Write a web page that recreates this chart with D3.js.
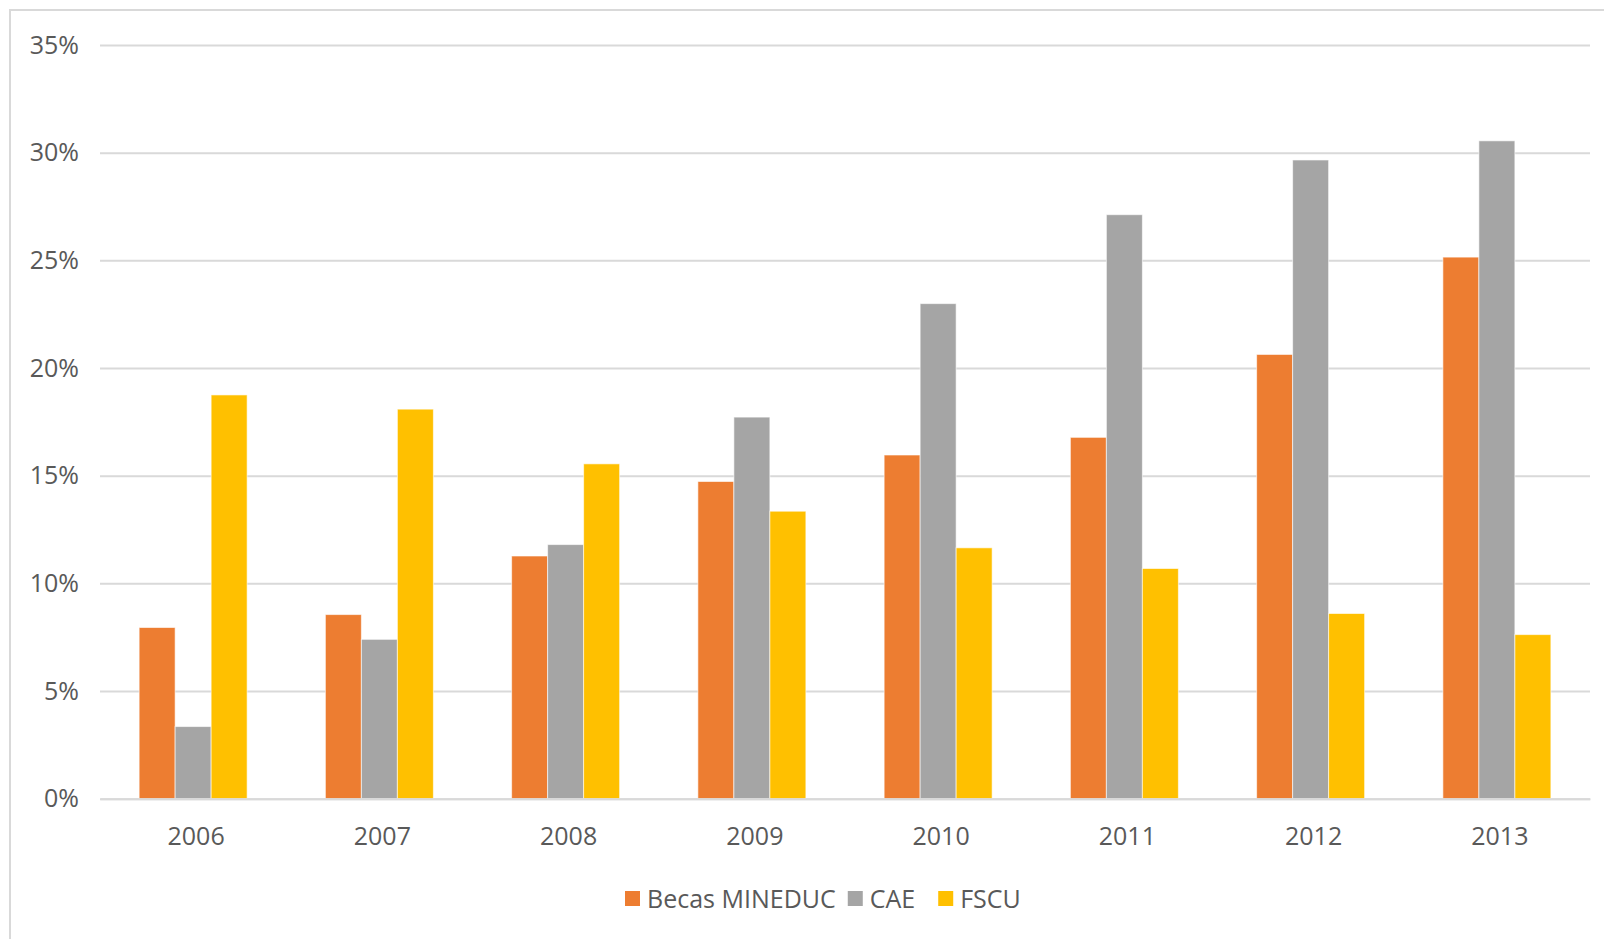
<!DOCTYPE html>
<html>
<head>
<meta charset="utf-8">
<script src="https://cdn.jsdelivr.net/npm/d3@7"></script>
<style>
  body { margin: 0; background: #fff; }
  svg text { font-family: "Open Sans", sans-serif; fill: #595959; }
</style>
</head>
<body>
<svg></svg>
<script>
// data (percent)
let years = ["2006", "2007", "2008", "2009", "2010", "2011", "2012", "2013"];
let seriesNames = ["Becas MINEDUC", "CAE", "FSCU"];
let becas = [7.95, 8.55, 11.27, 14.73, 15.96, 16.78, 20.63, 25.15];
let cae   = [3.35, 7.40, 11.80, 17.72, 22.99, 27.12, 29.66, 30.55];
let fscu  = [18.75, 18.09, 15.55, 13.35, 11.65, 10.69, 8.60, 7.62];
let colors = ["#ED7D31", "#A5A5A5", "#FFC000"];
let yTicks = [0, 5, 10, 15, 20, 25, 30, 35];

let width = 1604;
let height = 939;

let svg = d3.select("svg")
            .attr("width", width)
            .attr("height", height);

// chart frame
svg.append("rect")
   .attr("x", 10).attr("y", 10)
   .attr("width", width + 20).attr("height", height + 20)
   .attr("fill", "none")
   .attr("stroke", "#D9D9D9")
   .attr("stroke-width", 2);

let plotLeft = 100, plotRight = 1590, plotTop = 45, plotBottom = 798.7;

let xScale = d3.scaleBand()
               .domain(years)
               .range([plotLeft, plotRight])
               .paddingInner(0)
               .paddingOuter(0);

let innerScale = d3.scaleBand()
                   .domain(seriesNames)
                   .range([0, 108]);

let yScale = d3.scaleLinear()
               .domain([0, 35])
               .range([plotBottom, plotTop]);

// gridlines
let yAxis = d3.axisLeft(yScale)
              .tickValues(yTicks)
              .tickSize(-(plotRight - plotLeft))
              .tickPadding(21)
              .tickFormat(d => d + "%");

let gy = svg.append("g")
            .attr("transform", "translate(" + plotLeft + ",0)")
            .call(yAxis);
gy.select(".domain").remove();
gy.selectAll("line").attr("stroke", "#D9D9D9").attr("stroke-width", 2);
gy.selectAll("text").style("font-size", "25px").attr("fill", "#595959");

// bars
let values = years.map((y, i) => ({year: y, vals: [becas[i], cae[i], fscu[i]]}));

let groups = svg.selectAll(".grp")
                .data(values)
                .enter()
                .append("g")
                .attr("class", "grp")
                .attr("transform", d => "translate(" + (xScale(d.year) + (xScale.bandwidth() - 108) / 2) + ",0)");

groups.selectAll("rect")
      .data(d => d.vals.map((v, k) => ({name: seriesNames[k], v: v, k: k})))
      .enter()
      .append("rect")
      .attr("x", d => innerScale(d.name))
      .attr("width", innerScale.bandwidth())
      .attr("y", d => yScale(d.v))
      .attr("height", d => plotBottom - yScale(d.v))
      .attr("fill", d => colors[d.k])
      .attr("stroke", "#fff")
      .attr("stroke-opacity", 0.6)
      .attr("stroke-width", 1);

// x axis
let xAxis = d3.axisBottom(xScale).tickSize(0).tickPadding(29);
let gx = svg.append("g")
            .attr("transform", "translate(0," + plotBottom + ")")
            .call(xAxis);
gx.select(".domain").attr("stroke", "#D9D9D9").attr("stroke-width", 2);
gx.selectAll("text").style("font-size", "25px").attr("fill", "#595959").attr("dx", 3);

// legend
let legend = svg.append("g").attr("transform", "translate(625,899)");
let lx = 0;
seriesNames.forEach((name, k) => {
  legend.append("rect")
        .attr("x", lx).attr("y", -8)
        .attr("width", 15).attr("height", 15)
        .attr("fill", colors[k]);
  let t = legend.append("text")
                .attr("x", lx + 22)
                .attr("dy", "0.35em")
                .style("font-size", "25px")
                .text(name);
  lx += 22 + t.node().getComputedTextLength() + (k == 1 ? 23 : 12);
});
</script>
</body>
</html>
